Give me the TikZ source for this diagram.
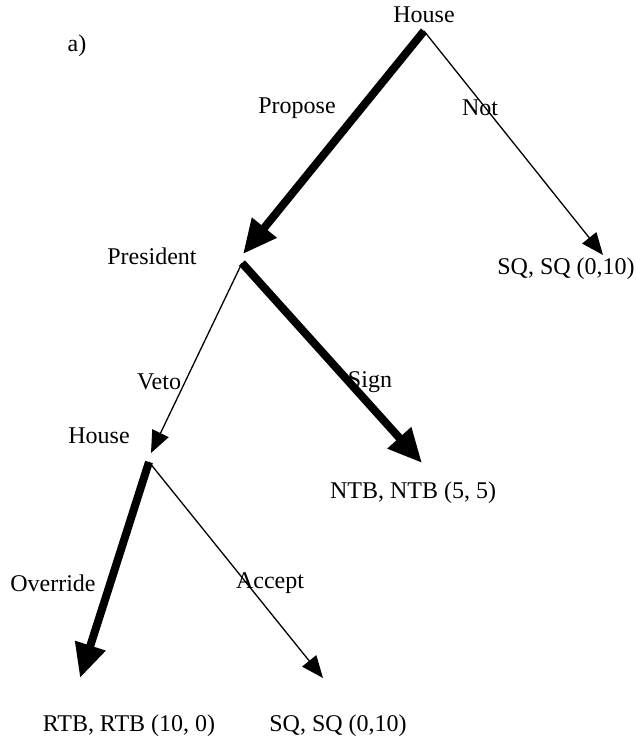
\documentclass[tikz,border=0pt]{standalone}
\usepackage{fontspec}
\setmainfont{Liberation Serif}
\usetikzlibrary{arrows.meta}

\begin{document}
\begin{tikzpicture}[x=1pt,y=-1pt,
    lbl/.style={font=\fontsize{24}{26}\selectfont, inner sep=0pt},
    chosen/.style={line width=8pt, -{Triangle[length=34pt,width=30pt]}},
    other/.style={line width=1.3pt, -{Triangle[length=22pt,width=18pt]}}]
        \useasboundingbox (0,0) rectangle (636,751);

        % labels
        \node[lbl] (tag) at (77,46) {a)};
        \node[lbl] (h1) at (424,15) {House};
        \node[lbl] (pres) at (152,256) {President};
        \node[lbl] (h2) at (99,436) {House};
        \node[lbl] (sq1) at (566,269) {SQ, SQ (0,10)};
        \node[lbl] (ntb) at (413,493) {NTB, NTB (5, 5)};
        \node[lbl] (rtb) at (129,726) {RTB, RTB (10, 0)};
        \node[lbl] (sq2) at (338,726) {SQ, SQ (0,10)};

        \node[lbl] (propose) at (297,108) {Propose};
        \node[lbl] (not) at (480,108) {Not};
        \node[lbl] (veto) at (159,382) {Veto};
        \node[lbl] (sign) at (370,382) {Sign};
        \node[lbl] (override) at (53,583) {Override};
        \node[lbl] (accept) at (270,583) {Accept};

        % branch points and arrow ends
        \coordinate (a1) at (424,31);
        \coordinate (a2) at (242,263);
        \coordinate (a3) at (149,462);
        \coordinate (e1) at (243,254);
        \coordinate (e2) at (603,255);
        \coordinate (e3) at (151,453);
        \coordinate (e4) at (422,463);
        \coordinate (e5) at (80,678);
        \coordinate (e6) at (323,678);

        \draw[chosen] (a1) -- (e1);
        \draw[other] (a1) -- (e2);
        \draw[other] (a2) -- (e3);
        \draw[chosen] (a2) -- (e4);
        \draw[chosen] (a3) -- (e5);
        \draw[other] (a3) -- (e6);
    \end{tikzpicture}
\end{document}
